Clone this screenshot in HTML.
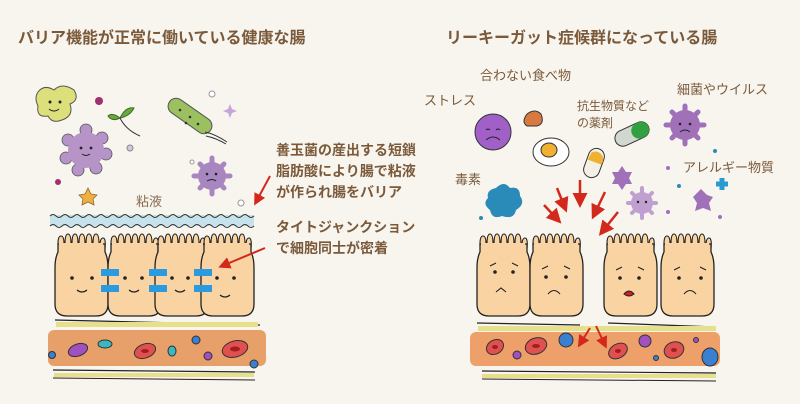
<!DOCTYPE html>
<html><head><meta charset="utf-8"><style>
html,body{margin:0;padding:0;background:#f8f5ef;}
svg{display:block}
text{font-family:"Liberation Sans","Noto Sans CJK JP",sans-serif;}
</style></head><body>
<svg width="800" height="404" viewBox="0 0 800 404" xmlns="http://www.w3.org/2000/svg">
<rect width="800" height="404" fill="#f8f5ef"/>
<defs>
<marker id="ar" markerWidth="6" markerHeight="6" refX="4" refY="3" orient="auto"><path d="M0,0 L6,3 L0,6 z" fill="#d3281c"/></marker>
<g id="cell">
 <path d="M3,10 q0,-8 3,-8 q3,0 3,8 M10,10 q0,-10 3,-10 q3,0 3,10 M17,10 q0,-10 3,-10 q3,0 3,10 M24,10 q0,-10 3,-10 q3,0 3,10 M31,10 q0,-10 3,-10 q3,0 3,10 M38,10 q0,-10 3,-10 q3,0 3,10 M45,12 q0,-8 3,-8 q3,0 2,10" fill="#fad3a3" stroke="#222" stroke-width="1.1"/>
 <path d="M0,34 q0,-10 3,-16 v-8 h47 v8 q3,6 3,16 v36 q0,12 -12,12 h-29 q-12,0 -12,-12 z" fill="#fad3a3" stroke="#222" stroke-width="1.3"/>
 <rect x="4" y="9" width="44" height="6" fill="#fad3a3"/>
</g>
</defs>
<!-- titles -->
<text x="18" y="43" font-size="16" font-weight="bold" fill="#7a5a3a">バリア機能が正常に働いている健康な腸</text>
<text x="446" y="43" font-size="16" font-weight="bold" fill="#7a5a3a">リーキーガット症候群になっている腸</text>

<!-- LEFT microbes -->
<path d="M38,92 q6,-8 16,-2 q8,-8 20,0 q6,10 -4,14 q4,12 -8,16 q-10,4 -14,-4 q-12,2 -10,-10 q-4,-8 0,-14z" fill="#dde07a" stroke="#555" stroke-width="1"/>
<circle cx="50" cy="102" r="1.5" fill="#222"/><circle cx="60" cy="102" r="1.5" fill="#222"/>
<path d="M49,109 q5,4 10,0" stroke="#222" fill="none"/>
<circle cx="99" cy="101" r="4" fill="#a0306e"/>
<g fill="#b694c8" stroke="#555" stroke-width="0.8">
<circle cx="86" cy="130" r="6"/><circle cx="102" cy="138" r="6"/><circle cx="106" cy="154" r="6"/><circle cx="96" cy="168" r="6"/><circle cx="78" cy="170" r="6"/><circle cx="66" cy="158" r="6"/><circle cx="68" cy="140" r="6"/>
<circle cx="86" cy="150" r="18" stroke="none"/>
</g>
<circle cx="81" cy="148" r="1.4" fill="#222"/><circle cx="91" cy="148" r="1.4" fill="#222"/>
<path d="M82,154 q4,3 8,0" stroke="#222" fill="none"/>
<path d="M120,118 q6,-12 14,-10 q-4,8 -14,10 M120,118 q-8,-6 -12,-2 q4,6 12,2" stroke="#3a6a2a" fill="#6aaa3a" stroke-width="1"/>
<path d="M120,118 q6,12 20,18" stroke="#333" fill="none"/>
<rect x="165" y="108" width="50" height="16" rx="8" transform="rotate(35 190 116)" fill="#9ac060" stroke="#555"/>
<g fill="#333"><circle cx="180" cy="110" r="1.3"/><circle cx="190" cy="117" r="1.3"/><circle cx="198" cy="124" r="1.3"/><circle cx="186" cy="123" r="1.3"/></g>
<path d="M205,132 q10,2 22,10 M206,136 q10,2 20,8" stroke="#333" fill="none"/>
<circle cx="212" cy="94" r="3" fill="#fff" stroke="#999"/>
<path d="M230,104 l2,5 l5,2 l-5,2 l-2,5 l-2,-5 l-5,-2 l5,-2z" fill="#c4a6d8"/>
<circle cx="130" cy="148" r="3" fill="#d8c4e0" stroke="#888"/>
<circle cx="58" cy="182" r="3" fill="#a0306e"/>
<path d="M88,188 l3,6 l6,1 l-4,4 l1,6 l-6,-3 l-6,3 l1,-6 l-4,-4 l6,-1z" fill="#f0b040" stroke="#8a6a30" stroke-width="0.8"/>
<path d="M212,158v6M212,188v6M194,176h6M224,176h6M200,164l4,4M224,164l-4,4M200,188l4,-4M224,188l-4,-4" stroke="#a886c0" stroke-width="5" stroke-linecap="round"/>
<circle cx="212" cy="176" r="14" fill="#a886c0"/>
<circle cx="207" cy="174" r="1.3" fill="#222"/><circle cx="216" cy="174" r="1.3" fill="#222"/>
<path d="M207,181 q5,-3 9,0" stroke="#222" fill="none"/>
<circle cx="192" cy="162" r="2" fill="#fff" stroke="#999"/>
<circle cx="241" cy="203" r="3" fill="#fff" stroke="#999"/>
<text x="136" y="206" font-size="13" fill="#8a6a50">粘液</text>
<!-- mucus -->
<rect x="50" y="215" width="204" height="11" fill="#c6e2ec"/>
<path d="M50,216 q3,-3 6,0 t6,0 t6,0 t6,0 t6,0 t6,0 t6,0 t6,0 t6,0 t6,0 t6,0 t6,0 t6,0 t6,0 t6,0 t6,0 t6,0 t6,0 t6,0 t6,0 t6,0 t6,0 t6,0 t6,0 t6,0 t6,0 t6,0 t6,0 t6,0 t6,0 t6,0 t6,0 t6,0 t6,0" fill="none" stroke="#333" stroke-width="1"/>
<path d="M50,226 q3,-3 6,0 t6,0 t6,0 t6,0 t6,0 t6,0 t6,0 t6,0 t6,0 t6,0 t6,0 t6,0 t6,0 t6,0 t6,0 t6,0 t6,0 t6,0 t6,0 t6,0 t6,0 t6,0 t6,0 t6,0 t6,0 t6,0 t6,0 t6,0 t6,0 t6,0 t6,0 t6,0 t6,0 t6,0" fill="none" stroke="#333" stroke-width="1"/>
<!-- left cells -->
<use href="#cell" x="55" y="234"/>
<use href="#cell" x="108" y="234"/>
<use href="#cell" x="155" y="234"/>
<use href="#cell" x="201" y="234"/>
<g fill="#222"><circle cx="72" cy="278" r="1.8"/><circle cx="92" cy="278" r="1.8"/><circle cx="125" cy="278" r="1.8"/><circle cx="142" cy="278" r="1.8"/><circle cx="172" cy="278" r="1.8"/><circle cx="188" cy="278" r="1.8"/><circle cx="217" cy="278" r="1.8"/><circle cx="234" cy="278" r="1.8"/></g>
<g stroke="#222" fill="none" stroke-width="1.2"><path d="M77,290 q5,4 10,0"/><path d="M129,290 q5,4 10,0"/><path d="M175,290 q5,4 10,0"/><path d="M220,295 q5,4 10,0"/></g>
<g fill="#2a9be0"><rect x="101" y="269" width="18" height="7"/><rect x="101" y="285" width="18" height="7"/><rect x="149" y="269" width="18" height="7"/><rect x="149" y="285" width="18" height="7"/><rect x="194" y="269" width="18" height="7"/><rect x="194" y="285" width="18" height="7"/></g>
<!-- left vessel -->
<line x1="55" y1="320" x2="260" y2="325" stroke="#222" stroke-width="1.2"/>
<rect x="56" y="322" width="202" height="5" fill="#e6e08a"/>
<rect x="48" y="330" width="218" height="36" rx="6" fill="#e8a06a"/>
<line x1="53" y1="370" x2="255" y2="372" stroke="#222" stroke-width="1.2"/>
<rect x="54" y="373" width="200" height="4" fill="#e6e08a"/>
<line x1="53" y1="378" x2="255" y2="380" stroke="#222" stroke-width="1"/>
<ellipse cx="78" cy="350" rx="10" ry="6" fill="#a050c0" stroke="#333" transform="rotate(-20 78 350)"/>
<ellipse cx="105" cy="344" rx="7" ry="4" fill="#3ab8c0" stroke="#333"/>
<ellipse cx="145" cy="351" rx="11" ry="7" fill="#e05050" stroke="#333" transform="rotate(-20 145 351)"/>
<ellipse cx="145" cy="351" rx="4" ry="2" fill="#a02020"/>
<ellipse cx="172" cy="351" rx="4" ry="5" fill="#3ab8c0" stroke="#333"/>
<circle cx="196" cy="340" r="4" fill="#3a80d0" stroke="#333"/>
<circle cx="208" cy="356" r="4" fill="#a050c0" stroke="#333"/>
<ellipse cx="235" cy="349" rx="13" ry="8" fill="#e05050" stroke="#333" transform="rotate(-15 235 349)"/>
<ellipse cx="235" cy="349" rx="5" ry="2.5" fill="#a02020"/>
<circle cx="52" cy="355" r="3.5" fill="#3a80d0" stroke="#333"/>
<circle cx="254" cy="364" r="4" fill="#3a80d0" stroke="#333"/>
<!-- left annotations -->
<g font-size="14" font-weight="bold" fill="#7a5a3a">
<text x="276" y="155">善玉菌の産出する短鎖</text>
<text x="276" y="176">脂肪酸により腸で粘液</text>
<text x="276" y="197">が作られ腸をバリア</text>
<text x="276" y="232">タイトジャンクション</text>
<text x="276" y="253">で細胞同士が密着</text>
</g>
<line x1="270" y1="176" x2="256" y2="202" stroke="#d3281c" stroke-width="2" marker-end="url(#ar)"/>
<line x1="265" y1="248" x2="222" y2="266" stroke="#d3281c" stroke-width="2" marker-end="url(#ar)"/>

<!-- RIGHT labels -->
<g font-size="13" fill="#7a5a3a">
<text x="480" y="80">合わない食べ物</text>
<text x="424" y="105">ストレス</text>
<text x="577" y="110" font-size="12">抗生物質など</text>
<text x="577" y="127" font-size="12">の薬剤</text>
<text x="677" y="94">細菌やウイルス</text>
<text x="683" y="172">アレルギー物質</text>
<text x="455" y="184">毒素</text>
</g>
<!-- right items -->
<circle cx="493" cy="132" r="18" fill="#a060c8" stroke="#333"/>
<path d="M486,130 q2,-2 4,0 M496,130 q2,-2 4,0 M486,140 q7,-6 14,0" stroke="#222" fill="none"/>
<path d="M527,114 q8,-6 14,0 q4,10 -4,12 h-10 q-6,-4 0,-12z" fill="#d87a40" stroke="#333"/>
<ellipse cx="551" cy="152" rx="18" ry="14" fill="#fff" stroke="#333"/>
<ellipse cx="549" cy="150" rx="8" ry="7" fill="#f0b030" stroke="#333"/>
<rect x="614" y="126" width="36" height="16" rx="8" transform="rotate(-25 632 134)" fill="#d0d8d0" stroke="#333"/>
<rect x="632" y="126" width="18" height="16" rx="8" transform="rotate(-25 632 134)" fill="#30a040"/>
<rect x="586" y="148" width="16" height="30" rx="8" transform="rotate(20 594 163)" fill="#f4f0e6" stroke="#333"/>
<path d="M588,154 a8,8 0 0 1 14,5 l-1,3 h-14 z" fill="#f0b030" transform="rotate(20 594 163)"/>
<path d="M685,106v6M685,138v6M666,125h6M698,125h6M672,112l4,4M698,112l-4,4M672,138l4,-4M698,138l-4,-4" stroke="#a070b8" stroke-width="5" stroke-linecap="round"/>
<circle cx="685" cy="125" r="15" fill="#a070b8"/>
<circle cx="680" cy="124" r="1.3" fill="#222"/><circle cx="690" cy="124" r="1.3" fill="#222"/><path d="M680,132 q5,-4 10,0" stroke="#222" fill="none"/>
<path d="M618,172 l4,-6 l4,6 l6,0 l-3,6 l3,6 l-6,0 l-4,6 l-4,-6 l-6,0 l3,-6 l-3,-6z" fill="#a070b8"/>
<path d="M642,188v4M642,214v4M628,203h4M652,203h4M632,193l3,3M652,193l-3,3M632,213l3,-3M652,213l-3,-3" stroke="#c0a0d0" stroke-width="4" stroke-linecap="round"/>
<circle cx="642" cy="203" r="11" fill="#c0a0d0"/>
<circle cx="638" cy="202" r="1.2" fill="#222"/><circle cx="646" cy="202" r="1.2" fill="#222"/>
<path d="M695,195 l6,-6 l6,6 l6,2 l-4,6 l2,8 l-8,-3 l-8,3 l2,-8 l-4,-6z" fill="#a070b8"/>
<path d="M716,184 h12" stroke="#2a9bd0" stroke-width="5"/><path d="M722,178 v12" stroke="#2a9bd0" stroke-width="5"/>
<path d="M496,188 q8,-8 14,0 q10,-2 10,8 q6,8 -4,14 q-2,10 -14,6 q-10,4 -12,-6 q-8,-6 -2,-12 q-2,-8 8,-10z" fill="#2a8ab8"/>
<g fill="#a070c0"><circle cx="668" cy="168" r="2"/><circle cx="668" cy="212" r="2"/><circle cx="720" cy="217" r="2"/></g>
<g fill="#2a8ab8"><circle cx="715" cy="151" r="2"/><circle cx="679" cy="186" r="2"/><circle cx="481" cy="218" r="2"/></g>
<!-- red arrows -->
<g stroke="#d3281c" stroke-width="2.5" marker-end="url(#ar)">
<line x1="544" y1="205" x2="558" y2="220"/>
<line x1="557" y1="188" x2="565" y2="208"/>
<line x1="580" y1="180" x2="580" y2="203"/>
<line x1="605" y1="192" x2="594" y2="215"/>
<line x1="618" y1="212" x2="602" y2="232"/>
</g>
<!-- right cells -->
<use href="#cell" x="477" y="234"/>
<use href="#cell" x="530" y="234"/>
<use href="#cell" x="604" y="234"/>
<use href="#cell" x="661" y="234"/>
<g fill="#222"><circle cx="495" cy="272" r="1.8"/><circle cx="513" cy="272" r="1.8"/><circle cx="546" cy="277" r="1.8"/><circle cx="566" cy="277" r="1.8"/><circle cx="620" cy="278" r="1.8"/><circle cx="639" cy="278" r="1.8"/><circle cx="679" cy="278" r="1.8"/><circle cx="701" cy="278" r="1.8"/></g>
<g stroke="#222" fill="none" stroke-width="1.1">
<path d="M490,266 l6,-3 M518,266 l-6,-3 M496,292 l5,-4 l5,4"/>
<path d="M542,269 l6,-3 M570,269 l-6,-3 M548,294 q6,-7 12,0"/>
<path d="M616,270 l6,-3 M644,270 l-6,-3"/>
<path d="M674,270 l6,-3 M706,270 l-6,-3 M684,294 q6,-7 12,0"/>
</g>
<path d="M624,294 q5,-6 10,0 q-5,4 -10,0z" fill="#d02020" stroke="#222"/>
<!-- right vessel -->
<line x1="477" y1="323" x2="580" y2="325" stroke="#222" stroke-width="1.2"/>
<line x1="608" y1="323" x2="716" y2="327" stroke="#222" stroke-width="1.2"/>
<rect x="478" y="326" width="238" height="5" fill="#e6e08a"/>
<rect x="470" y="332" width="250" height="34" rx="6" fill="#eea06a"/>
<line x1="482" y1="371" x2="716" y2="373" stroke="#222" stroke-width="1.2"/>
<rect x="482" y="374" width="234" height="4" fill="#e6e08a"/>
<line x1="482" y1="379" x2="716" y2="381" stroke="#222" stroke-width="1"/>
<g fill="#e05050" stroke="#333">
<ellipse cx="495" cy="347" rx="9" ry="7" transform="rotate(-30 495 347)"/>
<ellipse cx="536" cy="346" rx="11" ry="8" transform="rotate(-20 536 346)"/>
<ellipse cx="618" cy="351" rx="10" ry="7" transform="rotate(-30 618 351)"/>
<ellipse cx="674" cy="350" rx="10" ry="8" transform="rotate(-20 674 350)"/>
</g>
<g fill="#a02020"><ellipse cx="495" cy="347" rx="3" ry="2"/><ellipse cx="536" cy="346" rx="4" ry="2"/><ellipse cx="618" cy="351" rx="3" ry="2"/><ellipse cx="674" cy="350" rx="3" ry="2"/></g>
<circle cx="566" cy="340" r="7" fill="#3a80d0" stroke="#333"/>
<circle cx="645" cy="341" r="6" fill="#a050c0" stroke="#333"/>
<circle cx="517" cy="355" r="4" fill="#a050c0" stroke="#333"/>
<circle cx="656" cy="358" r="2.5" fill="#3a80d0" stroke="#333"/>
<circle cx="696" cy="340" r="2.5" fill="#a050c0" stroke="#333"/>
<ellipse cx="710" cy="357" rx="8" ry="9" fill="#3a80d0" stroke="#333"/>
<g stroke="#d3281c" stroke-width="2" marker-end="url(#ar)">
<line x1="590" y1="328" x2="580" y2="344"/>
<line x1="596" y1="326" x2="605" y2="345"/>
</g>
</svg>
</body></html>
